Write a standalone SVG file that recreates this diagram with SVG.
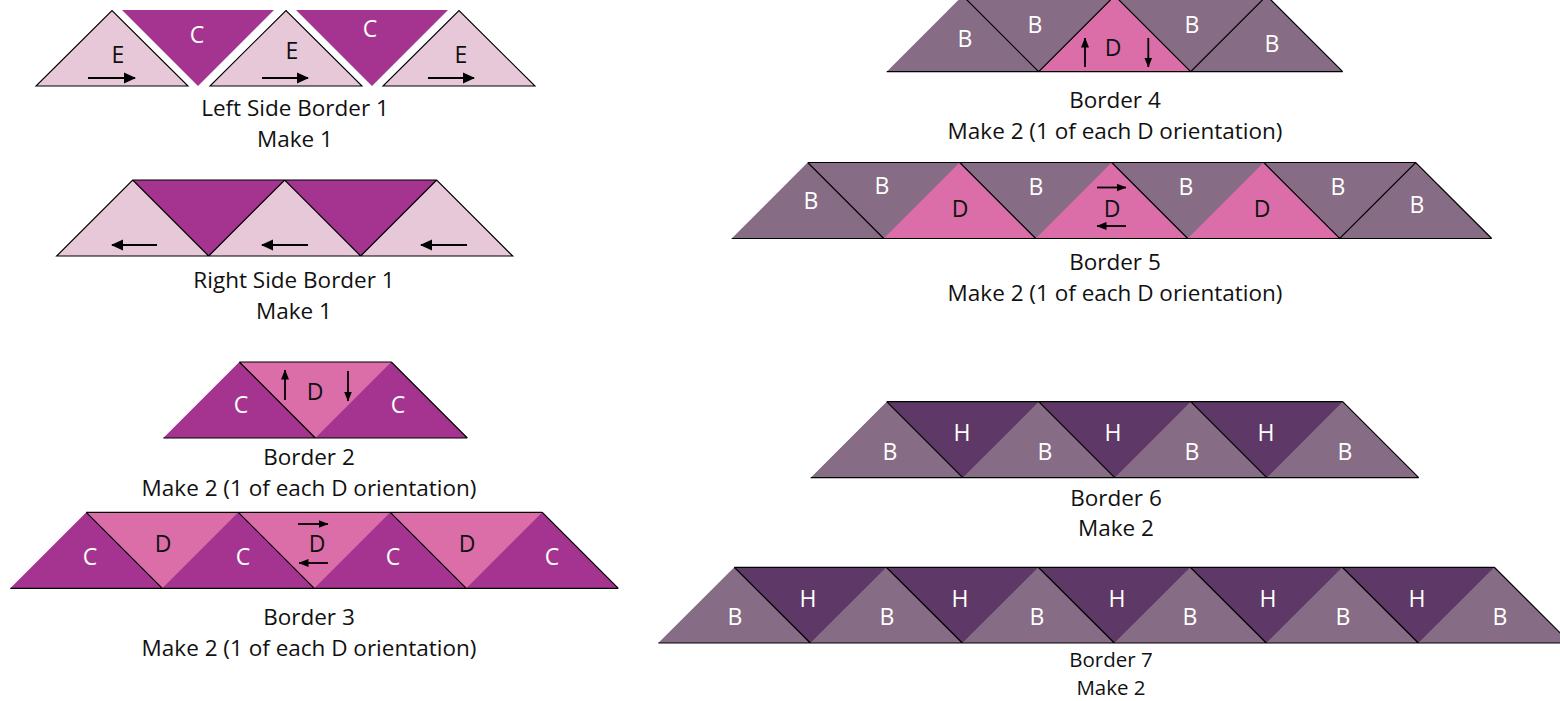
<svg xmlns="http://www.w3.org/2000/svg" width="1560" height="701" viewBox="0 0 1560 701">
<defs>
<style>
.e{fill:#e7c8d9}
.c{fill:#a43490}
.d{fill:#db6ea9}
.b{fill:#866c85}
.h{fill:#5e3866}
.ln{stroke:#000;stroke-width:1.2;fill:none}
.eo{stroke:#000;stroke-width:1.1}
.ar{stroke:#000;stroke-width:1.8;fill:none}
.lt{font-family:'Open Sans','Noto Sans',sans-serif;font-size:23px;text-anchor:middle}
.w{fill:#fff}
.k{fill:#111}
.cap{font-family:'Open Sans','Noto Sans',sans-serif;font-size:22.5px;text-anchor:middle;fill:#111}
.cap7{font-size:20.5px}
</style>
<marker id="ah" viewBox="0 0 12 12" refX="11" refY="6" markerWidth="12" markerHeight="12" markerUnits="userSpaceOnUse" orient="auto">
<path d="M0,0.5 L12,6 L0,11.5 Z" fill="#000"/>
</marker>
<marker id="ahs" viewBox="0 0 10 10" refX="9.5" refY="5" markerWidth="10" markerHeight="10" markerUnits="userSpaceOnUse" orient="auto">
<path d="M0,1 L10,5 L0,9 Z" fill="#000"/>
</marker>
</defs>

<g id="left-side-border-1">
<polygon class="e eo" points="36,86 188,86 112,10.5"/>
<polygon class="c" points="122,10 274,10 198,86"/>
<polygon class="e eo" points="210,86 362,86 286,10.5"/>
<polygon class="c" points="296,10 448,10 372,86"/>
<polygon class="e eo" points="383,86 535,86 459,10.5"/>
<text class="lt k" x="118" y="63">E</text>
<text class="lt w" x="197" y="43">C</text>
<text class="lt k" x="292" y="59">E</text>
<text class="lt w" x="370" y="37">C</text>
<text class="lt k" x="461" y="63">E</text>
<line class="ar" x1="88" y1="78" x2="135" y2="78" marker-end="url(#ah)"/>
<line class="ar" x1="262" y1="78" x2="308" y2="78" marker-end="url(#ah)"/>
<line class="ar" x1="428" y1="78" x2="474" y2="78" marker-end="url(#ah)"/>
<text class="cap" x="295" y="116">Left Side Border 1</text>
<text class="cap" x="295" y="147">Make 1</text>
</g>

<g id="right-side-border-1">
<polygon class="e" points="56.7,256 512.7,256 436.7,180 132.7,180"/>
<polygon class="c" points="132.7,180 284.7,180 208.7,256"/>
<polygon class="c" points="284.7,180 436.7,180 360.7,256"/>
<path class="ln" d="M56.7,256 L512.7,256 L436.7,180 L132.7,180 Z M132.7,180 L208.7,256 L284.7,180 L360.7,256 L436.7,180"/>
<line class="ar" x1="157" y1="245" x2="112" y2="245" marker-end="url(#ah)"/>
<line class="ar" x1="308" y1="245" x2="262" y2="245" marker-end="url(#ah)"/>
<line class="ar" x1="467" y1="245" x2="421" y2="245" marker-end="url(#ah)"/>
<text class="cap" x="294" y="288">Right Side Border 1</text>
<text class="cap" x="294" y="319">Make 1</text>
</g>

<g id="border-2">
<polygon class="c" points="163.3,438 467.3,438 391.3,362 239.3,362"/>
<polygon class="d" points="239.3,362 391.3,362 315.3,438"/>
<path class="ln" d="M163.3,438 L467.3,438 M239.3,362 L391.3,362 M239.3,362 L315.3,438 M391.3,362 L467.3,438"/>
<text class="lt w" x="241" y="413">C</text>
<text class="lt k" x="315" y="400">D</text>
<text class="lt w" x="398" y="413">C</text>
<line class="ar" x1="285" y1="400" x2="285" y2="370" marker-end="url(#ahs)"/>
<line class="ar" x1="348" y1="371" x2="348" y2="401" marker-end="url(#ahs)"/>
<text class="cap" x="309" y="465">Border 2</text>
<text class="cap" x="309" y="496">Make 2 (1 of each D orientation)</text>
</g>

<g id="border-3">
<polygon class="c" points="10.3,588.3 618.3,588.3 542.3,512.3 86.3,512.3"/>
<polygon class="d" points="86.3,512.3 238.3,512.3 162.3,588.3"/>
<polygon class="d" points="238.3,512.3 390.3,512.3 314.3,588.3"/>
<polygon class="d" points="390.3,512.3 542.3,512.3 466.3,588.3"/>
<path class="ln" d="M10.3,588.3 L618.3,588.3 M86.3,512.3 L542.3,512.3 M86.3,512.3 L162.3,588.3 M238.3,512.3 L314.3,588.3 M390.3,512.3 L466.3,588.3 M542.3,512.3 L618.3,588.3"/>
<text class="lt w" x="90" y="565">C</text>
<text class="lt k" x="163" y="552">D</text>
<text class="lt w" x="243" y="565">C</text>
<text class="lt k" x="317" y="552">D</text>
<text class="lt w" x="393" y="565">C</text>
<text class="lt k" x="467" y="552">D</text>
<text class="lt w" x="552" y="565">C</text>
<line class="ar" x1="298" y1="524" x2="328" y2="524" marker-end="url(#ahs)"/>
<line class="ar" x1="328" y1="563" x2="299" y2="563" marker-end="url(#ahs)"/>
<text class="cap" x="309" y="625">Border 3</text>
<text class="cap" x="309" y="656">Make 2 (1 of each D orientation)</text>
</g>

<g id="border-4">
<polygon class="b" points="886.7,71.7 1342.7,71.7 1266.7,-4.3 962.7,-4.3"/>
<polygon class="d" points="1038.7,71.7 1190.7,71.7 1114.7,-4.3"/>
<path class="ln" d="M886.7,71.7 L1342.7,71.7 M962.7,-4.3 L1038.7,71.7 L1114.7,-4.3 L1190.7,71.7 L1266.7,-4.3 L1342.7,71.7"/>
<text class="lt w" x="965" y="46.5">B</text>
<text class="lt w" x="1035" y="33">B</text>
<text class="lt k" x="1113" y="56">D</text>
<text class="lt w" x="1192" y="33">B</text>
<text class="lt w" x="1272" y="52">B</text>
<line class="ar" x1="1085" y1="67" x2="1085" y2="38" marker-end="url(#ahs)"/>
<line class="ar" x1="1148.3" y1="38" x2="1148.3" y2="67" marker-end="url(#ahs)"/>
<text class="cap" x="1115" y="108">Border 4</text>
<text class="cap" x="1115" y="139">Make 2 (1 of each D orientation)</text>
</g>

<g id="border-5">
<polygon class="b" points="731.7,238.5 1491.7,238.5 1415.7,162.5 807.7,162.5"/>
<polygon class="d" points="883.7,238.5 1035.7,238.5 959.7,162.5"/>
<polygon class="d" points="1035.7,238.5 1187.7,238.5 1111.7,162.5"/>
<polygon class="d" points="1187.7,238.5 1339.7,238.5 1263.7,162.5"/>
<path class="ln" d="M731.7,238.5 L1491.7,238.5 M807.7,162.5 L1415.7,162.5 M807.7,162.5 L883.7,238.5 M959.7,162.5 L1035.7,238.5 M1111.7,162.5 L1187.7,238.5 M1263.7,162.5 L1339.7,238.5 L1415.7,162.5 L1491.7,238.5"/>
<text class="lt w" x="811" y="209">B</text>
<text class="lt w" x="882" y="194">B</text>
<text class="lt k" x="960" y="217">D</text>
<text class="lt w" x="1036" y="195">B</text>
<text class="lt k" x="1112" y="217">D</text>
<text class="lt w" x="1186" y="195">B</text>
<text class="lt k" x="1262" y="217">D</text>
<text class="lt w" x="1338" y="195">B</text>
<text class="lt w" x="1417" y="213">B</text>
<line class="ar" x1="1097" y1="187.5" x2="1126" y2="187.5" marker-end="url(#ahs)"/>
<line class="ar" x1="1126" y1="226" x2="1097" y2="226" marker-end="url(#ahs)"/>
<text class="cap" x="1115" y="270">Border 5</text>
<text class="cap" x="1115" y="301">Make 2 (1 of each D orientation)</text>
</g>

<g id="border-6">
<polygon class="b" points="810.7,477.7 1418.7,477.7 1342.7,401.7 886.7,401.7"/>
<polygon class="h" points="886.7,401.7 1038.7,401.7 962.7,477.7"/>
<polygon class="h" points="1038.7,401.7 1190.7,401.7 1114.7,477.7"/>
<polygon class="h" points="1190.7,401.7 1342.7,401.7 1266.7,477.7"/>
<path class="ln" d="M810.7,477.7 L1418.7,477.7 M886.7,401.7 L1342.7,401.7 M886.7,401.7 L962.7,477.7 M1038.7,401.7 L1114.7,477.7 M1190.7,401.7 L1266.7,477.7 M1342.7,401.7 L1418.7,477.7"/>
<text class="lt w" x="890" y="460">B</text>
<text class="lt w" x="962" y="441">H</text>
<text class="lt w" x="1045" y="460">B</text>
<text class="lt w" x="1113" y="441">H</text>
<text class="lt w" x="1192" y="460">B</text>
<text class="lt w" x="1266" y="441">H</text>
<text class="lt w" x="1345" y="460">B</text>
<text class="cap" x="1116" y="506">Border 6</text>
<text class="cap" x="1116" y="536">Make 2</text>
</g>

<g id="border-7">
<polygon class="b" points="658.3,643 1570.3,643 1494.3,567.3 734.3,567.3"/>
<polygon class="h" points="734.3,567.3 886.3,567.3 810.3,643"/>
<polygon class="h" points="886.3,567.3 1038.3,567.3 962.3,643"/>
<polygon class="h" points="1038.3,567.3 1190.3,567.3 1114.3,643"/>
<polygon class="h" points="1190.3,567.3 1342.3,567.3 1266.3,643"/>
<polygon class="h" points="1342.3,567.3 1494.3,567.3 1418.3,643"/>
<path class="ln" d="M658.3,643 L1570.3,643 M734.3,567.3 L1494.3,567.3 M734.3,567.3 L810.3,643 M886.3,567.3 L962.3,643 M1038.3,567.3 L1114.3,643 M1190.3,567.3 L1266.3,643 M1342.3,567.3 L1418.3,643 M1494.3,567.3 L1570.3,643"/>
<text class="lt w" x="735" y="625">B</text>
<text class="lt w" x="808" y="607">H</text>
<text class="lt w" x="887" y="625">B</text>
<text class="lt w" x="960" y="607">H</text>
<text class="lt w" x="1037" y="625">B</text>
<text class="lt w" x="1117" y="607">H</text>
<text class="lt w" x="1190" y="625">B</text>
<text class="lt w" x="1268" y="607">H</text>
<text class="lt w" x="1343" y="625">B</text>
<text class="lt w" x="1417" y="607">H</text>
<text class="lt w" x="1500" y="625">B</text>
<text class="cap cap7" x="1111" y="667">Border 7</text>
<text class="cap cap7" x="1111" y="695">Make 2</text>
</g>
</svg>
